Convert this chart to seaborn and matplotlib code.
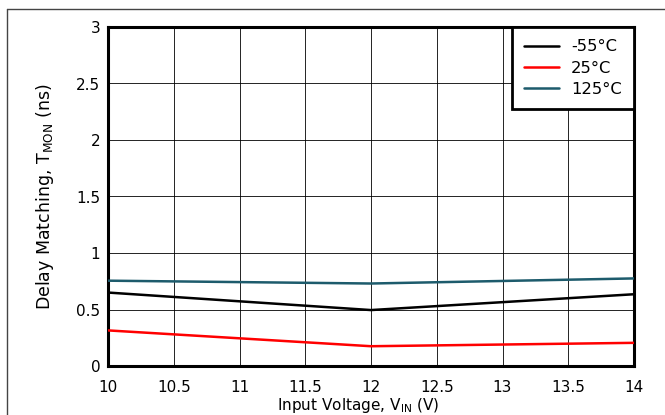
import matplotlib
matplotlib.use("Agg")
import matplotlib.pyplot as plt
from matplotlib.lines import Line2D
import seaborn as sns
import pandas as pd

vin = [10, 12, 14]
series_names = ["-55°C", "25°C", "125°C"]
t_m55 = [0.65, 0.495, 0.635]
t_25 = [0.315, 0.175, 0.205]
t_125 = [0.755, 0.73, 0.775]
colors = ["#000000", "#ff0000", "#1d5b6c"]
xticks = [10, 10.5, 11, 11.5, 12, 12.5, 13, 13.5, 14]
yticks = [0, 0.5, 1, 1.5, 2, 2.5, 3]

rows = []
for name, vals in zip(series_names, [t_m55, t_25, t_125]):
    for x, y in zip(vin, vals):
        rows.append({"VIN": x, "T": y, "Temp": name})
df = pd.DataFrame(rows)

sns.set_theme(style="white")
plt.rcParams['font.family'] = ['DejaVu Sans']
plt.rcParams['mathtext.fontset'] = 'dejavusans'
plt.rcParams['mathtext.default'] = 'regular'
plt.rcParams['text.color'] = 'black'
plt.rcParams['axes.labelcolor'] = 'black'
plt.rcParams['xtick.color'] = 'black'
plt.rcParams['ytick.color'] = 'black'

fig = plt.figure(figsize=(6.65, 4.15), dpi=100)
ax = fig.add_axes([108/665, 1-366/415, (634-108)/665, (366-27)/415])

sns.lineplot(data=df, x="VIN", y="T", hue="Temp", hue_order=series_names,
             palette=dict(zip(series_names, colors)), linewidth=1.8, ax=ax,
             zorder=3)

ax.set_xlim(10, 14)
ax.set_ylim(0, 3)
ax.set_xticks(xticks)
ax.set_xticklabels([f"{t:g}" for t in xticks])
ax.set_yticks(yticks)
ax.set_yticklabels([f"{t:g}" for t in yticks])
ax.tick_params(axis='x', length=0, labelsize=11, labelcolor='black', pad=10)
ax.tick_params(axis='y', length=0, labelsize=11, labelcolor='black', pad=5.5)
ax.grid(True, color='black', linewidth=0.6)
ax.set_axisbelow(True)
for s in ax.spines.values():
    s.set_visible(True)
    s.set_color('black')
    s.set_linewidth(2.2)

ax.set_xlabel("Input Voltage, V$_{IN}$ (V)", fontsize=11, color='black')
ax.xaxis.set_label_coords(250/526, -(410-366)/339)
ax.xaxis.label.set_va('baseline')
ax.set_ylabel("Delay Matching, T$_{MON}$ (ns)", fontsize=12.5, color='black')
ax.yaxis.set_label_coords(-(108-45)/526, 0.5)
ax.yaxis.label.set_va('center')

leg = ax.legend(loc='upper right', borderaxespad=0, fontsize=11.8,
                frameon=True, fancybox=False, framealpha=1,
                handlelength=2.1, handletextpad=0.75, labelspacing=0.38,
                borderpad=0.75)
leg.get_frame().set_edgecolor('black')
leg.get_frame().set_linewidth(2.0)
leg.set_zorder(5)
for t in leg.get_texts():
    t.set_color('black')

fig.add_artist(Line2D([7/665, 7/665], [0, 1-9/415], transform=fig.transFigure,
                      color='#444444', linewidth=1))
fig.add_artist(Line2D([7/665, 1], [1-9/415, 1-9/415], transform=fig.transFigure,
                      color='#444444', linewidth=1))

fig.savefig("out.png", dpi=100)
